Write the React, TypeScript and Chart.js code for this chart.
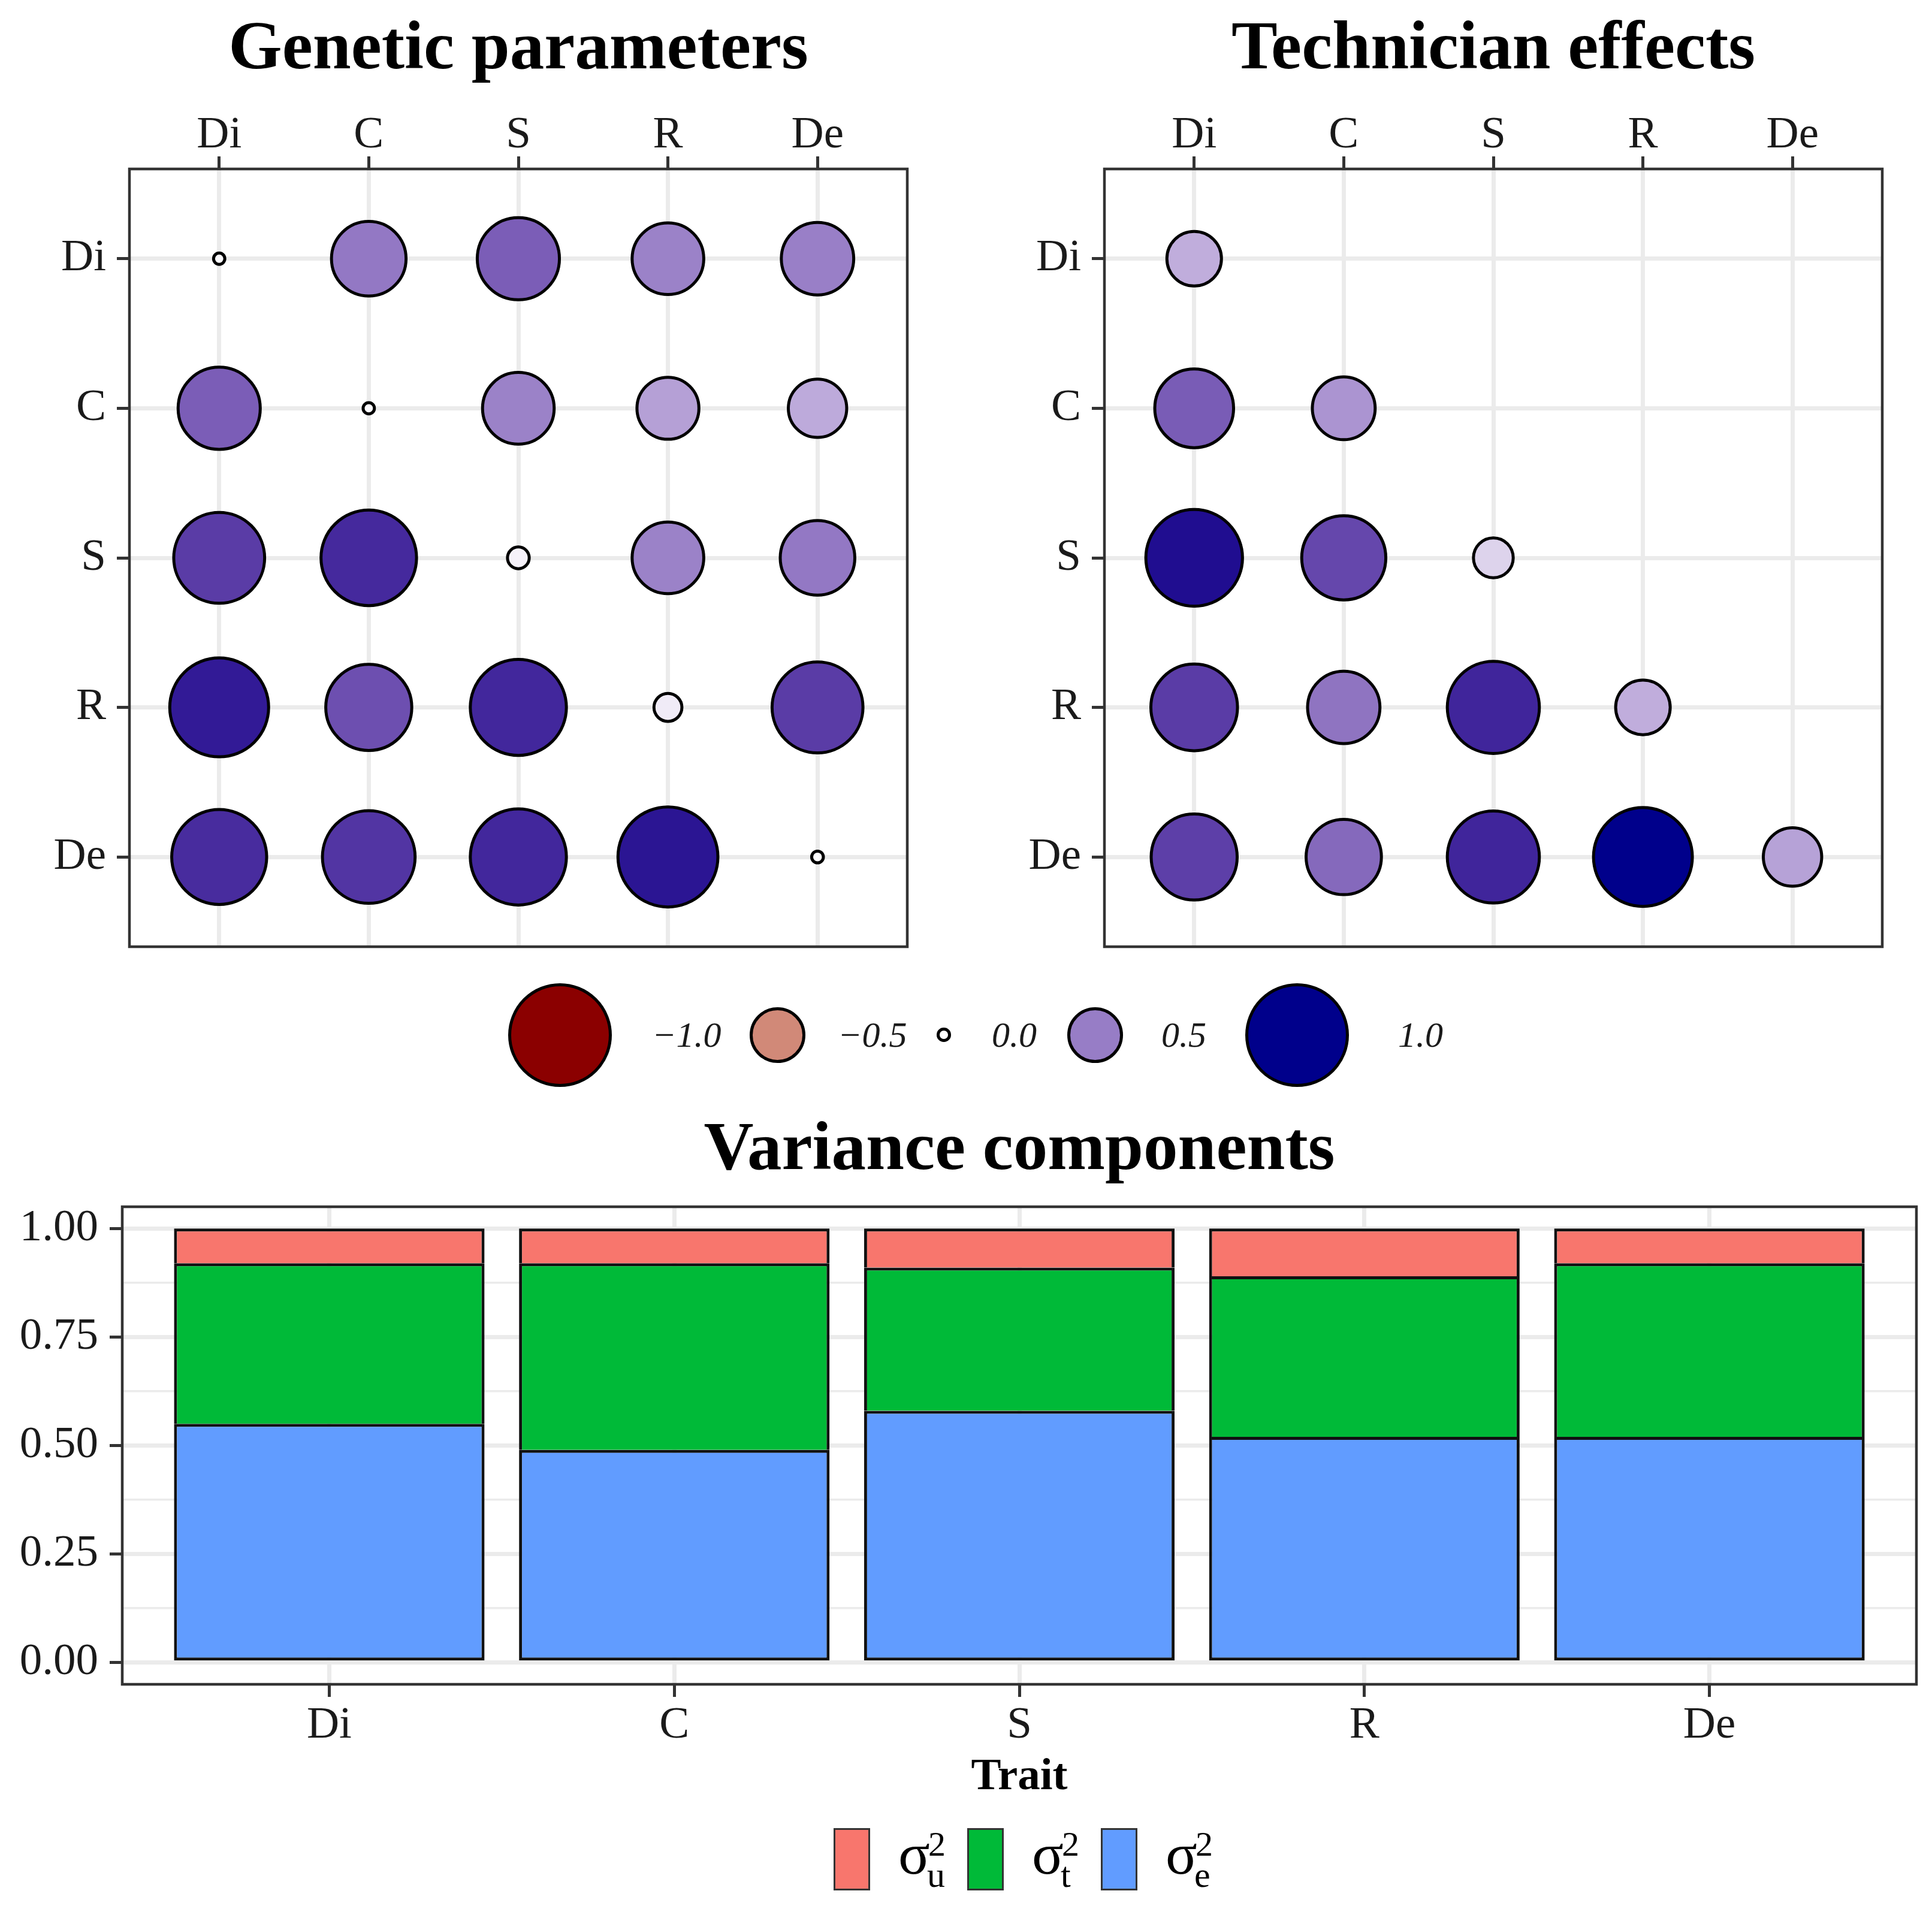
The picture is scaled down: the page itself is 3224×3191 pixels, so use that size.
import React, { useEffect, useRef } from 'react';
import { Chart, registerables } from 'chart.js';

Chart.register(...registerables);

// ---------------- DATA ----------------
const TRAITS = ['Di', 'C', 'S', 'R', 'De'];

// Genetic parameters: rows = y trait (Di..De), columns = x trait (Di..De)
const GEN_DI = [0.013, 0.52, 0.63, 0.48, 0.49];
const GEN_C = [0.63, 0.013, 0.48, 0.36, 0.32];
const GEN_S = [0.77, 0.85, 0.046, 0.48, 0.52];
const GEN_R = [0.91, 0.69, 0.86, 0.075, 0.77];
const GEN_DE = [0.84, 0.8, 0.86, 0.93, 0.014];

// Technician effects (lower triangle only)
const TECH_DI = [0.28, null, null, null, null];
const TECH_C = [0.58, 0.37, null, null, null];
const TECH_S = [0.87, 0.66, 0.15, null, null];
const TECH_R = [0.7, 0.49, 0.79, 0.28, null];
const TECH_DE = [0.69, 0.53, 0.79, 0.91, 0.32];

// Variance components (proportions)
const VAR_U = [0.08, 0.08, 0.09, 0.11, 0.08];
const VAR_T = [0.37, 0.43, 0.33, 0.37, 0.4];
const VAR_E = [0.55, 0.49, 0.58, 0.52, 0.52];

const BAR_Y_TICKS = [0, 0.25, 0.5, 0.75, 1];
const LEGEND_BREAKS = [-1, -0.5, 0, 0.5, 1];
const LEGEND_LABELS = ['\u22121.0', '\u22120.5', '0.0', '0.5', '1.0'];

// ---------------- STYLE / LAYOUT ----------------
const FONT = 'Liberation Serif';
const TXT = '#1a1a1a';
const GRID = '#EBEBEB';
const BORDER = '#333333';
const LOW = '#8B0000';
const MID = '#FFFFFF';
const HIGH = '#00008B';
const COL_U = '#F8766D';
const COL_T = '#00BA38';
const COL_E = '#619CFF';
const BUBBLE_BW = 5;
const LEG_CX = [934, 1297, 1575, 1827, 2164];
const LEG_LX = [1088, 1398, 1655, 1938, 2333];
const LEG_CY = 1727;

// ---------------- colour (Lab interpolation like ggplot gradient2) ----------------
function hexToRgb(h: string) {
  return [parseInt(h.slice(1, 3), 16), parseInt(h.slice(3, 5), 16), parseInt(h.slice(5, 7), 16)];
}
function toLin(c: number) {
  c /= 255;
  return c <= 0.04045 ? c / 12.92 : Math.pow((c + 0.055) / 1.055, 2.4);
}
function fromLin(c: number) {
  const v = c <= 0.0031308 ? 12.92 * c : 1.055 * Math.pow(Math.max(c, 0), 1 / 2.4) - 0.055;
  return Math.round(Math.min(1, Math.max(0, v)) * 255);
}
const XN = 0.95047, YN = 1, ZN = 1.08883;
const D = 6 / 29;
function f(t: number) {
  return t > D * D * D ? Math.cbrt(t) : t / (3 * D * D) + 4 / 29;
}
function finv(t: number) {
  return t > D ? t * t * t : 3 * D * D * (t - 4 / 29);
}
function rgbToLab(rgb: number[]) {
  const R = toLin(rgb[0]), G = toLin(rgb[1]), B = toLin(rgb[2]);
  const X = 0.4124564 * R + 0.3575761 * G + 0.1804375 * B;
  const Y = 0.2126729 * R + 0.7151522 * G + 0.072175 * B;
  const Z = 0.0193339 * R + 0.119192 * G + 0.9503041 * B;
  const fx = f(X / XN), fy = f(Y / YN), fz = f(Z / ZN);
  return [116 * fy - 16, 500 * (fx - fy), 200 * (fy - fz)];
}
function labToRgb(lab: number[]) {
  const fy = (lab[0] + 16) / 116;
  const fx = fy + lab[1] / 500;
  const fz = fy - lab[2] / 200;
  const X = XN * finv(fx), Y = YN * finv(fy), Z = ZN * finv(fz);
  const R = 3.2404542 * X - 1.5371385 * Y - 0.4985314 * Z;
  const G = -0.969266 * X + 1.8760108 * Y + 0.041556 * Z;
  const B = 0.0556434 * X - 0.2040259 * Y + 1.0572252 * Z;
  return `rgb(${fromLin(R)},${fromLin(G)},${fromLin(B)})`;
}
// gradient2 fill; `limit` is the |value| that maps to the end colours
function fillFor(v: number, limit = 1) {
  const t = Math.min(1, Math.abs(v) / limit);
  const a = rgbToLab(hexToRgb(MID));
  const b = rgbToLab(hexToRgb(v < 0 ? LOW : HIGH));
  return labToRgb(a.map((x, i) => x + (b[i] - x) * t));
}
// outer point radius in the panels (area proportional to |value|)
function plotRadius(v: number) {
  return 2 + 87 * Math.sqrt(Math.abs(v));
}
// outer key radius in the shared legend
function legendRadius(v: number) {
  const a = Math.abs(v);
  return 11.8 + 64.1 * a + 10.6 * a * a;
}

// ---------------- plugins ----------------
const panelBorder = {
  id: 'panelBorder',
  afterDatasetsDraw(chart: any) {
    const { ctx, chartArea: a } = chart;
    ctx.save();
    ctx.strokeStyle = BORDER;
    ctx.lineWidth = 4.5;
    ctx.strokeRect(a.left, a.top, a.right - a.left, a.bottom - a.top);
    ctx.restore();
  },
};

function zeroPad(s: any) {
  s.paddingLeft = 0;
  s.paddingRight = 0;
  s.paddingTop = 0;
  s.paddingBottom = 0;
}

const tickFont = { family: FONT, size: 75, lineHeight: 1 };
const gridOpts = { color: GRID, lineWidth: 7, tickLength: 21, tickWidth: 5, tickColor: BORDER, offset: false };

function bubbleConfig(rows: (number | null)[][], fillLimit: number) {
  const pts: any[] = [];
  rows.forEach((row, yi) =>
    row.forEach((v, xi) => {
      if (v !== null) pts.push({ x: xi, y: yi, r: plotRadius(v) - BUBBLE_BW / 2, v });
    })
  );
  const catTicks = (s: any) => {
    s.ticks = TRAITS.map((_, i) => ({ value: i }));
  };
  return {
    type: 'bubble',
    data: {
      datasets: [
        {
          data: pts,
          backgroundColor: (c: any) => (c.raw ? fillFor(c.raw.v, fillLimit) : '#fff'),
          borderColor: '#000',
          borderWidth: BUBBLE_BW,
          clip: false,
        },
      ],
    },
    options: {
      animation: false,
      responsive: false,
      devicePixelRatio: 1,
      events: [],
      layout: { autoPadding: false, padding: { left: 0, top: 0, right: 46, bottom: 40 } },
      plugins: { legend: { display: false }, tooltip: { enabled: false } },
      scales: {
        x: {
          type: 'linear',
          position: 'top',
          offset: false,
          min: -0.6,
          max: 4.6,
          afterBuildTicks: catTicks,
          afterFit: (s: any) => {
            s.height = 282;
            zeroPad(s);
          },
          ticks: {
            callback: (v: any) => TRAITS[v],
            font: tickFont,
            color: TXT,
            padding: -3,
            autoSkip: false,
            maxRotation: 0,
          },
          grid: gridOpts,
          border: { display: false },
        },
        y: {
          type: 'linear',
          reverse: true,
          offset: false,
          min: -0.6,
          max: 4.6,
          afterBuildTicks: catTicks,
          afterFit: (s: any) => {
            s.width = 216;
            zeroPad(s);
          },
          ticks: {
            callback: (v: any) => TRAITS[v],
            font: tickFont,
            color: TXT,
            padding: 18,
            autoSkip: false,
          },
          grid: gridOpts,
          border: { display: false },
        },
      },
    },
    plugins: [panelBorder],
  };
}

function barConfig() {
  const mk = (vals: number[]) => vals.map((v, i) => ({ x: i, y: v }));
  const base = { borderColor: '#111', borderSkipped: false, barPercentage: 0.9, categoryPercentage: 1 };
  const isMajor = (v: number) => BAR_Y_TICKS.some((t) => Math.abs(t - v) < 1e-9);
  const bw = 5;
  return {
    type: 'bar',
    data: {
      datasets: [
        { ...base, label: 'e', data: mk(VAR_E), backgroundColor: COL_E, borderWidth: { top: bw, left: bw, right: bw, bottom: bw } },
        { ...base, label: 't', data: mk(VAR_T), backgroundColor: COL_T, borderWidth: { top: bw, left: bw, right: bw, bottom: 0 } },
        { ...base, label: 'u', data: mk(VAR_U), backgroundColor: COL_U, borderWidth: { top: bw, left: bw, right: bw, bottom: 0 } },
      ],
    },
    options: {
      animation: false,
      responsive: false,
      devicePixelRatio: 1,
      events: [],
      layout: { autoPadding: false, padding: { left: 0, top: 24, right: 26, bottom: 0 } },
      plugins: { legend: { display: false }, tooltip: { enabled: false } },
      scales: {
        x: {
          type: 'linear',
          stacked: true,
          offset: false,
          min: -0.6,
          max: 4.6,
          afterBuildTicks: (s: any) => {
            s.ticks = TRAITS.map((_, i) => ({ value: i }));
          },
          afterFit: (s: any) => {
            s.height = 229;
            zeroPad(s);
          },
          ticks: {
            callback: (v: any) => TRAITS[v],
            font: tickFont,
            color: TXT,
            padding: 11,
            autoSkip: false,
            maxRotation: 0,
          },
          title: {
            display: true,
            text: 'Trait',
            color: '#000',
            font: { family: FONT, size: 75, weight: 'bold', lineHeight: 1.2 },
            padding: { top: 0, bottom: 28 },
          },
          grid: gridOpts,
          border: { display: false },
        },
        y: {
          type: 'linear',
          stacked: true,
          min: -0.05,
          max: 1.05,
          afterBuildTicks: (s: any) => {
            const t: any[] = [];
            BAR_Y_TICKS.forEach((v, i) => {
              t.push({ value: v });
              if (i < BAR_Y_TICKS.length - 1) t.push({ value: (v + BAR_Y_TICKS[i + 1]) / 2 });
            });
            s.ticks = t;
          },
          afterFit: (s: any) => {
            s.width = 204;
            zeroPad(s);
          },
          ticks: {
            callback: (v: any) => (isMajor(v) ? Number(v).toFixed(2) : ''),
            font: tickFont,
            color: TXT,
            padding: 19,
            autoSkip: false,
          },
          grid: {
            color: GRID,
            lineWidth: (c: any) => (c.tick && isMajor(c.tick.value) ? 7 : 3.5),
            tickLength: 21,
            tickWidth: 5,
            tickColor: (c: any) => (c.tick && isMajor(c.tick.value) ? BORDER : 'rgba(0,0,0,0)'),
          },
          border: { display: false },
        },
      },
    },
    plugins: [panelBorder],
  };
}

function ChartCanvas(props: { make: () => any; left: number; top: number; width: number; height: number }) {
  const ref = useRef<HTMLCanvasElement | null>(null);
  useEffect(() => {
    const chart = new Chart(ref.current as HTMLCanvasElement, props.make());
    return () => chart.destroy();
  }, []);
  return (
    <canvas
      ref={ref}
      width={props.width}
      height={props.height}
      style={{ position: 'absolute', left: props.left, top: props.top, width: props.width, height: props.height }}
    />
  );
}

function Title(props: { text: string; cx: number; top: number }) {
  return (
    <div
      style={{
        position: 'absolute',
        left: props.cx - 1000,
        width: 2000,
        top: props.top,
        textAlign: 'center',
        fontFamily: FONT,
        fontWeight: 'bold',
        fontSize: 115,
        lineHeight: 1,
        color: '#000',
        whiteSpace: 'nowrap',
      }}
    >
      {props.text}
    </div>
  );
}

function SizeLegend() {
  return (
    <>
      {LEGEND_BREAKS.map((b, i) => {
        const r = legendRadius(b);
        return (
          <React.Fragment key={i}>
            <div
              style={{
                position: 'absolute',
                left: LEG_CX[i] - r,
                top: LEG_CY - r,
                width: 2 * r,
                height: 2 * r,
                borderRadius: '50%',
                border: `${BUBBLE_BW}px solid #000`,
                boxSizing: 'border-box',
                background: fillFor(b),
              }}
            />
            <span
              style={{
                position: 'absolute',
                left: LEG_LX[i],
                top: LEG_CY - 30,
                fontFamily: FONT,
                fontStyle: 'italic',
                fontSize: 60,
                lineHeight: 1,
                color: TXT,
                whiteSpace: 'nowrap',
              }}
            >
              {LEGEND_LABELS[i]}
            </span>
          </React.Fragment>
        );
      })}
    </>
  );
}

const VAR_KEYS = [
  { sub: 'u', color: COL_U },
  { sub: 't', color: COL_T },
  { sub: 'e', color: COL_E },
];

function BarLegend() {
  return (
    <div style={{ position: 'absolute', left: 1391, top: 3051, height: 104, display: 'flex', fontFamily: FONT }}>
      {VAR_KEYS.map((k, i) => (
        <React.Fragment key={i}>
          <div
            style={{
              width: 61,
              height: 104,
              background: k.color,
              border: `3px solid ${BORDER}`,
              boxSizing: 'border-box',
              flex: 'none',
            }}
          />
          <div
            style={{
              position: 'relative',
              width: 75,
              height: 104,
              marginLeft: 47,
              marginRight: i < VAR_KEYS.length - 1 ? 40 : 0,
              color: '#000',
              flex: 'none',
            }}
          >
            <span style={{ position: 'absolute', left: 0, top: -6, fontSize: 98, lineHeight: 1 }}>{'\u03C3'}</span>
            <span style={{ position: 'absolute', left: 50, top: -1.6, fontSize: 58, lineHeight: 1 }}>2</span>
            <span style={{ position: 'absolute', left: 48, top: 47.5, fontSize: 60, lineHeight: 1 }}>{k.sub}</span>
          </div>
        </React.Fragment>
      ))}
    </div>
  );
}

export default function App() {
  useEffect(() => {
    document.body.style.margin = '0';
  }, []);
  const genRows = [GEN_DI, GEN_C, GEN_S, GEN_R, GEN_DE];
  const techRows = [TECH_DI, TECH_C, TECH_S, TECH_R, TECH_DE];
  const maxAbs = (rows: (number | null)[][]) =>
    Math.max(...rows.flat().filter((v): v is number => v !== null).map((v) => Math.abs(v)));
  return (
    <div
      style={{
        position: 'relative',
        width: 3224,
        height: 3191,
        background: '#fff',
        overflow: 'hidden',
        fontFamily: FONT,
      }}
    >
      <Title text="Genetic parameters" cx={865} top={18} />
      <Title text="Technician effects" cx={2492} top={18} />
      <ChartCanvas make={() => bubbleConfig(genRows, 1)} left={0} top={0} width={1560} height={1620} />
      <ChartCanvas make={() => bubbleConfig(techRows, maxAbs(techRows))} left={1627} top={0} width={1560} height={1620} />
      <SizeLegend />
      <Title text="Variance components" cx={1701} top={1855} />
      <ChartCanvas make={barConfig} left={0} top={1990} width={3224} height={1050} />
      <BarLegend />
    </div>
  );
}
